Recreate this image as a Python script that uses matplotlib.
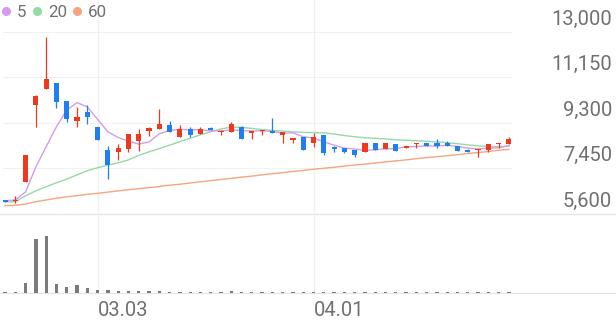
import matplotlib
matplotlib.use("Agg")
import matplotlib.pyplot as plt
from matplotlib.lines import Line2D
import numpy as np

plt.rcParams['font.family'] = ['Roboto', 'DejaVu Sans']

# 일봉 (50 sessions)
opens = [6170, 6110, 6910, 10050, 10690, 10910, 10200, 9390, 9740, 9150,
         8200, 8130, 8240, 8570, 8990, 9045, 9220, 8720, 9045, 8850,
         9110, 8945, 8920, 9150, 8880, 8975, 8990, 8810, 8610, 8720,
         8475, 8810, 8335, 8270, 8200, 8110, 8475, 8245, 8435, 8270,
         8435, 8475, 8475, 8500, 8380, 8200, 8200, 8200, 8435, 8435]
highs = [6180, 6340, 8000, 10420, 12810, 10920, 10200, 9940, 10030, 9150,
         8380, 8450, 8850, 9060, 9130, 9870, 9390, 9220, 9150, 9150,
         9130, 9015, 9330, 9160, 8990, 9015, 9490, 8920, 8700, 8720,
         8880, 8810, 8380, 8270, 8200, 8475, 8475, 8475, 8435, 8380,
         8475, 8475, 8640, 8580, 8380, 8245, 8230, 8435, 8475, 8720]
lows = [6070, 6035, 6910, 9150, 10680, 9900, 9350, 9150, 9260, 8610,
        7010, 7800, 8110, 8160, 8770, 9045, 8950, 8720, 8720, 8850,
        9015, 8810, 8920, 8640, 8650, 8810, 8880, 8475, 8500, 8200,
        8340, 8000, 8130, 8070, 7930, 8110, 8200, 8245, 8160, 8270,
        8270, 8380, 8270, 8365, 8160, 8135, 7930, 8110, 8300, 8435]
closes = [6075, 6130, 8000, 10410, 11090, 10140, 9460, 9530, 9530, 8610,
          7590, 8280, 8850, 8850, 9090, 9245, 8950, 9045, 8810, 9055,
          9015, 8990, 9245, 8650, 8990, 9015, 8880, 8920, 8700, 8200,
          8745, 8090, 8255, 8110, 8000, 8475, 8200, 8475, 8160, 8380,
          8475, 8380, 8380, 8365, 8160, 8135, 8230, 8435, 8475, 8650]
# volume, thousand shares
volumes = [70, 70, 1030, 5430, 5700, 930, 630, 770, 500, 330,
           270, 200, 170, 170, 170, 230, 130, 130, 120, 120,
           120, 120, 170, 120, 120, 110, 110, 110, 100, 100,
           110, 110, 90, 90, 90, 90, 90, 90, 90, 90,
           90, 90, 90, 90, 90, 90, 90, 90, 90, 90]

ma5 = [6140, 6170, 6500, 7520, 8340, 9150, 9820, 10130, 9950, 9450,
       8940, 8710, 8570, 8440, 8530, 8860, 9000, 9040, 9030, 9020,
       8980, 8980, 9020, 8990, 8980, 8980, 8960, 8890, 8900, 8740,
       8690, 8530, 8400, 8280, 8240, 8190, 8210, 8250, 8260, 8340,
       8340, 8370, 8360, 8400, 8350, 8280, 8250, 8270, 8290, 8390]
ma20 = [6090, 6100, 6340, 6540, 6710, 6870, 7020, 7190, 7360, 7480,
        7590, 7680, 7800, 7980, 8130, 8260, 8400, 8540, 8680, 8820,
        8950, 9060, 9130, 9120, 9080, 9030, 9000, 8970, 8940, 8920,
        8910, 8900, 8850, 8790, 8740, 8700, 8680, 8650, 8620, 8600,
        8580, 8560, 8530, 8500, 8460, 8410, 8370, 8340, 8340, 8350]
ma60 = [5940, 5955, 6005, 6100, 6170, 6240, 6300, 6345, 6400, 6440,
        6490, 6540, 6590, 6630, 6670, 6720, 6770, 6810, 6860, 6910,
        6955, 7000, 7050, 7100, 7140, 7190, 7240, 7280, 7330, 7370,
        7420, 7460, 7500, 7550, 7590, 7630, 7670, 7720, 7760, 7800,
        7850, 7890, 7930, 7970, 8010, 8060, 8100, 8140, 8190, 8230]

price_ticks = [5600, 7450, 9300, 11150, 13000]
date_pos = [9, 30]
date_labels = ["03.03", "04.01"]

RED = "#ec3a1e"
BLUE = "#1f7ff0"
TXT = "#707070"

W, H = 616, 321
fig = plt.figure(figsize=(W / 100, H / 100), dpi=100)
ax = fig.add_axes([3 / W, (H - 214) / H, 509 / W, 214 / H])
axv = fig.add_axes([3 / W, (H - 293) / H, 509 / W, 79 / H])

x = np.arange(len(closes))
o = np.array(opens)
c = np.array(closes)
colors = np.where(c >= o, RED, BLUE)

# ===== price panel =====
for p in price_ticks[1:]:
    ax.axhline(p, color="#f1f1f1", lw=0.8, zorder=0)
ax.axhline(price_ticks[0], xmin=-3 / 509, xmax=613 / 509, color="#e4e4e4",
           lw=0.9, clip_on=False, zorder=0)

ax.plot(x, ma60, color="#f7a47f", lw=1.0, zorder=2)
ax.plot(x, ma20, color="#95d9a3", lw=1.0, zorder=2)
ax.plot(x, ma5, color="#d49cec", lw=1.0, zorder=2)

ax.vlines(x, lows, highs, colors=colors, lw=0.9, zorder=3)
body_lo = np.minimum(o, c)
body_h = np.maximum(np.abs(c - o), 45)
ax.bar(x, body_h, bottom=body_lo, width=0.5, color=colors, lw=0, zorder=4)

for p in price_ticks:
    ax.annotate(f"{p:,}", xy=(1, p), xycoords=("axes fraction", "data"),
                xytext=(100, 13), textcoords="offset pixels",
                ha="right", va="center", fontsize=14.5, color=TXT,
                annotation_clip=False)

handles = [Line2D([], [], ls="none", marker="o", ms=6.5, color=col, mec="none")
           for col in ["#d49cec", "#95d9a3", "#f7a47f"]]
ax.legend(handles, ["5", "20", "60"], loc="upper left",
          bbox_to_anchor=(-2 / 509, 1 - 5 / 214), ncol=3, frameon=False,
          fontsize=12.2, labelcolor=TXT, handlelength=0.6,
          handletextpad=0.35, columnspacing=0.3, borderpad=0,
          borderaxespad=0)

ax.set_xlim(-0.2, 49.3)
ax.set_ylim(price_ticks[0], price_ticks[0] + 214 * (price_ticks[-1] - price_ticks[0]) / 182)

# ===== volume panel =====
axv.bar(x, volumes, width=0.32, color="#7a7a7a", lw=0, zorder=3)
axv.axhline(0, xmin=-3 / 509, xmax=613 / 509, color="#e4e4e4", lw=0.9,
            clip_on=False, zorder=1)
axv.set_xlim(-0.2, 49.3)
axv.set_ylim(0, 7900)

for pos, lab in zip(date_pos, date_labels):
    ax.axvline(pos, color="#efefef", lw=0.9, zorder=0)
    axv.axvline(pos, color="#efefef", lw=0.9, zorder=0)
    axv.annotate(lab, xy=(pos, 0), xycoords=("data", "axes fraction"),
                 xytext=(0, -18), textcoords="offset pixels",
                 ha="left", va="center", fontsize=14.5, color=TXT,
                 annotation_clip=False)

for a in (ax, axv):
    a.set_xticks([])
    a.set_yticks([])
    for s in a.spines.values():
        s.set_visible(False)
    a.patch.set_alpha(0)

fig.savefig("out.png", dpi=100)
